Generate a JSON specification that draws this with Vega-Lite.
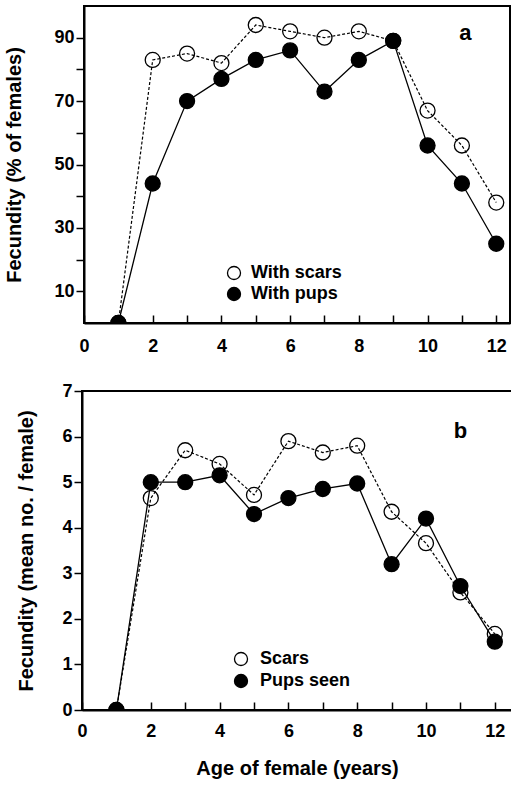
{
  "$schema": "https://vega.github.io/schema/vega-lite/v6.json",
  "padding": {"left": 3, "top": 5, "right": 0, "bottom": 2},
  "background": "white",
  "spacing": 25,
  "center": true,
  "bounds": "full",
  "config": {
    "font": "Liberation Sans",
    "view": {"stroke": "black", "strokeWidth": 2},
    "axis": {
      "grid": false,
      "domainColor": "black",
      "domainWidth": 2,
      "tickColor": "black",
      "tickWidth": 1.5,
      "labelFont": "Liberation Sans",
      "labelFontWeight": "bold",
      "labelFontSize": 18,
      "labelColor": "black",
      "titleFont": "Liberation Sans",
      "titleFontWeight": "bold",
      "titleFontSize": 20,
      "titleColor": "black"
    },
    "legend": {
      "labelFont": "Liberation Sans",
      "labelFontWeight": "bold",
      "labelFontSize": 18,
      "labelColor": "black"
    }
  },
  "datasets": {
    "panelA": [
      {"age": 1, "series": "With scars", "value": 0},
      {"age": 2, "series": "With scars", "value": 83},
      {"age": 3, "series": "With scars", "value": 85},
      {"age": 4, "series": "With scars", "value": 82},
      {"age": 5, "series": "With scars", "value": 94},
      {"age": 6, "series": "With scars", "value": 92},
      {"age": 7, "series": "With scars", "value": 90},
      {"age": 8, "series": "With scars", "value": 92},
      {"age": 9, "series": "With scars", "value": 89},
      {"age": 10, "series": "With scars", "value": 67},
      {"age": 11, "series": "With scars", "value": 56},
      {"age": 12, "series": "With scars", "value": 38},
      {"age": 1, "series": "With pups", "value": 0},
      {"age": 2, "series": "With pups", "value": 44},
      {"age": 3, "series": "With pups", "value": 70},
      {"age": 4, "series": "With pups", "value": 77},
      {"age": 5, "series": "With pups", "value": 83},
      {"age": 6, "series": "With pups", "value": 86},
      {"age": 7, "series": "With pups", "value": 73},
      {"age": 8, "series": "With pups", "value": 83},
      {"age": 9, "series": "With pups", "value": 89},
      {"age": 10, "series": "With pups", "value": 56},
      {"age": 11, "series": "With pups", "value": 44},
      {"age": 12, "series": "With pups", "value": 25}
    ],
    "panelB": [
      {"age": 1, "series": "Scars", "value": 0},
      {"age": 2, "series": "Scars", "value": 4.65},
      {"age": 3, "series": "Scars", "value": 5.7},
      {"age": 4, "series": "Scars", "value": 5.4},
      {"age": 5, "series": "Scars", "value": 4.72},
      {"age": 6, "series": "Scars", "value": 5.9},
      {"age": 7, "series": "Scars", "value": 5.65},
      {"age": 8, "series": "Scars", "value": 5.8},
      {"age": 9, "series": "Scars", "value": 4.35},
      {"age": 10, "series": "Scars", "value": 3.66},
      {"age": 11, "series": "Scars", "value": 2.58},
      {"age": 12, "series": "Scars", "value": 1.67},
      {"age": 1, "series": "Pups seen", "value": 0},
      {"age": 2, "series": "Pups seen", "value": 5.0},
      {"age": 3, "series": "Pups seen", "value": 5.0},
      {"age": 4, "series": "Pups seen", "value": 5.15},
      {"age": 5, "series": "Pups seen", "value": 4.3},
      {"age": 6, "series": "Pups seen", "value": 4.65},
      {"age": 7, "series": "Pups seen", "value": 4.85},
      {"age": 8, "series": "Pups seen", "value": 4.97},
      {"age": 9, "series": "Pups seen", "value": 3.2},
      {"age": 10, "series": "Pups seen", "value": 4.2},
      {"age": 11, "series": "Pups seen", "value": 2.72},
      {"age": 12, "series": "Pups seen", "value": 1.5}
    ]
  },
  "vconcat": [
    {
      "width": 426,
      "height": 317,
      "encoding": {
        "x": {"field": "age", "type": "quantitative", "scale": {"domain": [0, 12.4], "nice": false},
          "axis": {"values": [0,1,2,3,4,5,6,7,8,9,10,11,12], "labelExpr": "datum.value % 2 == 0 ? datum.label : ''", "tickSize": -8, "labelPadding": 22, "title": null, "labelFlush": false}},
        "y": {"field": "value", "type": "quantitative", "scale": {"domain": [0, 100], "nice": false},
          "axis": {"values": [10,20,30,40,50,60,70,80,90], "labelExpr": "datum.value % 20 == 10 ? datum.label : ''", "tickSize": 8, "labelPadding": 2, "titlePadding": 29, "title": "Fecundity (% of females)"}}
      },
      "layer": [
        {
          "data": {"name": "panelA"},
          "transform": [{"filter": "datum.series == 'With scars'"}],
          "mark": {"type": "line", "color": "black", "strokeWidth": 1.2, "strokeDash": [3, 2], "clip": true}
        },
        {
          "data": {"name": "panelA"},
          "transform": [{"filter": "datum.series == 'With pups'"}],
          "mark": {"type": "line", "color": "black", "strokeWidth": 1.3, "clip": true}
        },
        {
          "data": {"name": "panelA"},
          "mark": {"type": "point", "shape": "circle", "filled": true, "size": 225, "stroke": "black", "strokeWidth": 1.3, "opacity": 1, "clip": true},
          "encoding": {
            "fill": {"field": "series", "type": "nominal", "scale": {"domain": ["With scars", "With pups"], "range": ["transparent", "black"]},
              "legend": {"title": null, "orient": "none", "legendX": 141, "legendY": 258, "symbolSize": 170, "symbolStrokeColor": "black", "symbolStrokeWidth": 1.3, "labelOffset": 8, "rowPadding": 1, "padding": 0}}
          }
        },
        {
          "data": {"name": "panelA"},
          "transform": [{"filter": "datum.age == 12 && datum.series == 'With pups'"}],
          "mark": {"type": "text", "text": "a", "font": "Liberation Sans", "fontWeight": "bold", "fontSize": 22, "fill": "black", "align": "center", "baseline": "middle"},
          "encoding": {
            "x": {"datum": 11.1},
            "y": {"datum": 91.5}
          }
        }
      ]
    },
    {
      "width": 430,
      "height": 319,
      "encoding": {
        "x": {"field": "age", "type": "quantitative", "scale": {"domain": [0, 12.5], "nice": false},
          "axis": {"values": [0,1,2,3,4,5,6,7,8,9,10,11,12], "labelExpr": "datum.value % 2 == 0 ? datum.label : ''", "tickSize": -8, "labelPadding": 20, "titlePadding": 18, "title": "Age of female (years)", "labelFlush": false}},
        "y": {"field": "value", "type": "quantitative", "scale": {"domain": [0, 7], "nice": false},
          "axis": {"values": [0,1,2,3,4,5,6,7], "tickSize": 8, "labelPadding": 2, "titlePadding": 25, "title": "Fecundity (mean no. / female)", "labelFlush": false}}
      },
      "layer": [
        {
          "data": {"name": "panelB"},
          "transform": [{"filter": "datum.series == 'Scars'"}],
          "mark": {"type": "line", "color": "black", "strokeWidth": 1.2, "strokeDash": [3, 2], "clip": true}
        },
        {
          "data": {"name": "panelB"},
          "transform": [{"filter": "datum.series == 'Pups seen'"}],
          "mark": {"type": "line", "color": "black", "strokeWidth": 1.3, "clip": true}
        },
        {
          "data": {"name": "panelB"},
          "mark": {"type": "point", "shape": "circle", "filled": true, "size": 225, "stroke": "black", "strokeWidth": 1.3, "opacity": 1, "clip": true},
          "encoding": {
            "fill": {"field": "series", "type": "nominal", "scale": {"domain": ["Scars", "Pups seen"], "range": ["transparent", "black"]},
              "legend": {"title": null, "orient": "none", "legendX": 150, "legendY": 259, "symbolSize": 170, "symbolStrokeColor": "black", "symbolStrokeWidth": 1.3, "labelOffset": 10, "rowPadding": 2, "padding": 0}}
          }
        },
        {
          "data": {"name": "panelB"},
          "transform": [{"filter": "datum.age == 12 && datum.series == 'Pups seen'"}],
          "mark": {"type": "text", "text": "b", "font": "Liberation Sans", "fontWeight": "bold", "fontSize": 22, "fill": "black", "align": "center", "baseline": "middle"},
          "encoding": {
            "x": {"datum": 11.0},
            "y": {"datum": 6.13}
          }
        }
      ]
    }
  ],
  "resolve": {"scale": {"fill": "independent"}, "legend": {"fill": "independent"}}
}
